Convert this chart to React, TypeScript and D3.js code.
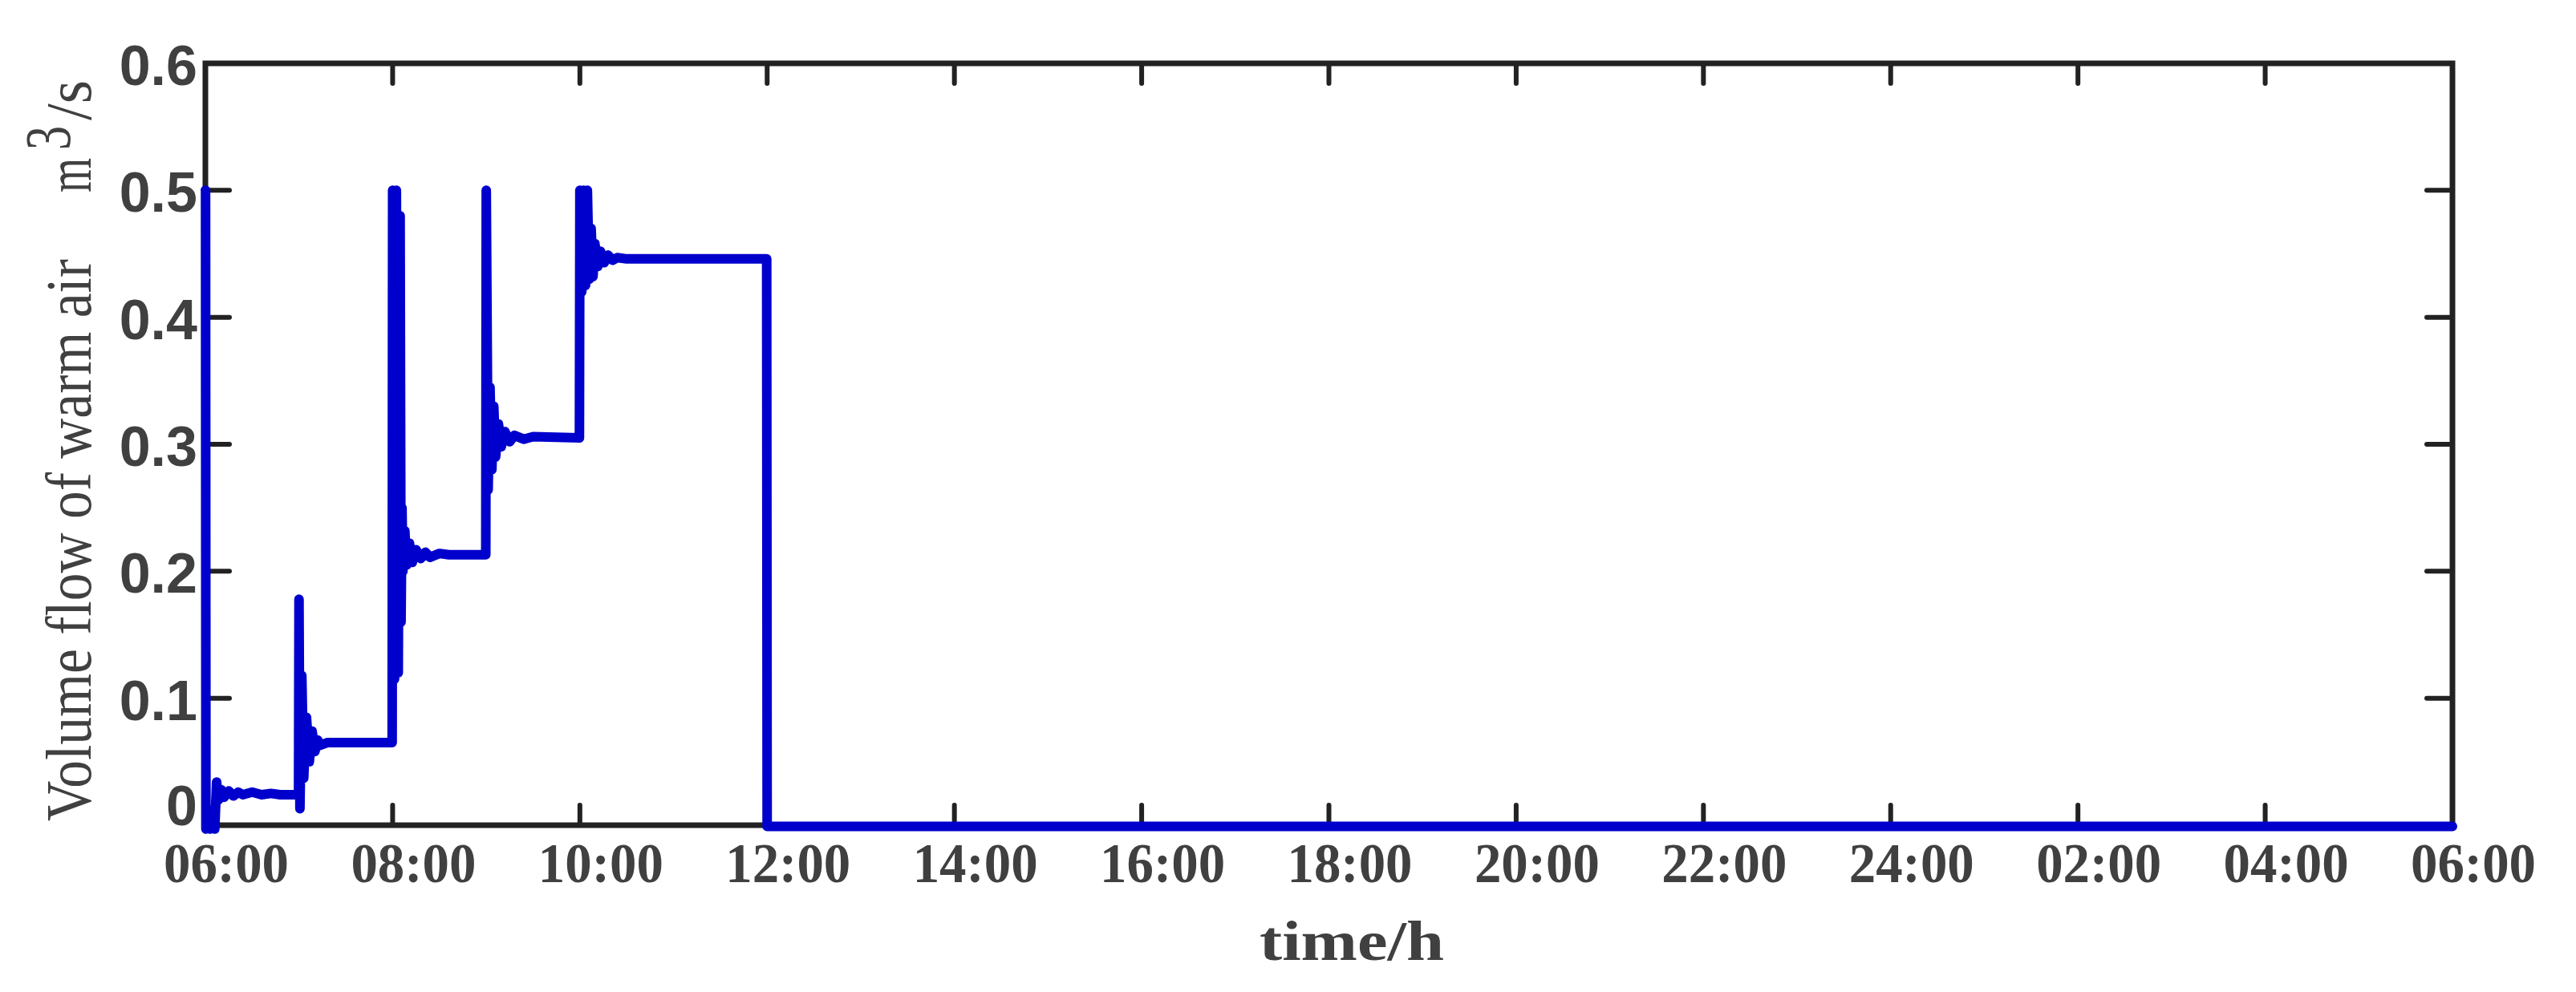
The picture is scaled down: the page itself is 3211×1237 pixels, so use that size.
import React from 'react';
import * as d3 from 'd3';

// Volume flow of warm air over one day (hours counted from 06:00)
const startup: [number, number][] = [
  [0, 0.5], [0.002, 0.5], [0.006, -0.003], [0.03, 0.01], [0.05, -0.003], [0.08, 0.012],
  [0.1, -0.003], [0.12, 0.034], [0.14, 0.02], [0.17, 0.028], [0.2, 0.022], [0.25, 0.027],
  [0.3, 0.023], [0.35, 0.026], [0.4, 0.024], [0.5, 0.026], [0.6, 0.024], [0.7, 0.025],
  [0.8, 0.024], [0.995, 0.024],
];
const step0700: [number, number][] = [
  [1.0, 0.178], [1.01, 0.013], [1.03, 0.118], [1.05, 0.037], [1.08, 0.085], [1.11, 0.05],
  [1.14, 0.074], [1.17, 0.058], [1.2, 0.067], [1.23, 0.063], [1.3, 0.065], [1.995, 0.065],
];
const step0800: [number, number][] = [
  [2.0, 0.5], [2.02, 0.115], [2.04, 0.5], [2.06, 0.12], [2.08, 0.48], [2.09, 0.16],
  [2.1, 0.25], [2.11, 0.2], [2.13, 0.232], [2.15, 0.205], [2.18, 0.222], [2.21, 0.207],
  [2.25, 0.217], [2.3, 0.21], [2.35, 0.215], [2.4, 0.211], [2.5, 0.214], [2.6, 0.213],
  [2.995, 0.213],
];
const step0900: [number, number][] = [
  [3.0, 0.5], [3.02, 0.264], [3.04, 0.345], [3.06, 0.28], [3.08, 0.33], [3.1, 0.29],
  [3.13, 0.316], [3.16, 0.298], [3.2, 0.31], [3.25, 0.302], [3.3, 0.307], [3.4, 0.304],
  [3.5, 0.306], [3.995, 0.305],
];
const step1000: [number, number][] = [
  [4.0, 0.5], [4.02, 0.42], [4.04, 0.5], [4.06, 0.425], [4.08, 0.5], [4.1, 0.43],
  [4.12, 0.47], [4.14, 0.432], [4.16, 0.458], [4.19, 0.44], [4.22, 0.452], [4.26, 0.443],
  [4.3, 0.449], [4.35, 0.445], [4.4, 0.447], [4.5, 0.446], [5.995, 0.446],
];
const shutdown: [number, number][] = [
  [6.0, -0.001], [24, -0.001],
];

const xTickHours = [0, 2, 4, 6, 8, 10, 12, 14, 16, 18, 20, 22, 24];
const xTickLabels = ['06:00', '08:00', '10:00', '12:00', '14:00', '16:00', '18:00',
  '20:00', '22:00', '24:00', '02:00', '04:00', '06:00'];
const yTicks = [0, 0.1, 0.2, 0.3, 0.4, 0.5, 0.6];
const yTickLabels = ['0', '0.1', '0.2', '0.3', '0.4', '0.5', '0.6'];

const W = 3211;
const H = 1237;
const left = 256, right = 3057, top = 79, bottom = 1029;
const textColor = '#404040';
const axisColor = '#222222';

const App = () => {
  const x = d3.scaleLinear().domain([0, 24]).range([left, right]);
  const y = d3.scaleLinear().domain([0, 0.6]).range([bottom, top]);

  const series = [...startup, ...step0700, ...step0800, ...step0900, ...step1000, ...shutdown];
  const path = d3.line<[number, number]>()
    .x(d => x(d[0]))
    .y(d => y(d[1]))(series);

  return (
    <svg width={W} height={H} style={{ position: 'absolute', left: 0, top: 0, background: '#fff' }}>
      {/* ticks, inward on all four sides */}
      <g stroke={axisColor} strokeWidth={6} strokeLinecap="round">
        {xTickHours.map(h => (
          <g key={'xt' + h}>
            <line x1={x(h)} x2={x(h)} y1={bottom} y2={bottom - 25} />
            <line x1={x(h)} x2={x(h)} y1={top} y2={top + 25} />
          </g>
        ))}
        {yTicks.map(v => (
          <g key={'yt' + v}>
            <line x1={left} x2={left + 30} y1={y(v)} y2={y(v)} />
            <line x1={right} x2={right - 32} y1={y(v)} y2={y(v)} />
          </g>
        ))}
      </g>
      {/* box */}
      <rect x={left} y={top} width={right - left} height={bottom - top}
        fill="none" stroke={axisColor} strokeWidth={7} />

      {/* data line */}
      <path d={path ?? ''} fill="none" stroke="#0000cd" strokeWidth={12}
        strokeLinejoin="round" strokeLinecap="round" />

      {/* y tick labels */}
      <g fontFamily="'Liberation Sans', Arial, sans-serif" fontWeight="bold" fontSize={70} fill={textColor}>
        {yTicks.map((v, i) => (
          <text key={'yl' + v} x={246} y={v === 0 ? y(v) : y(v) + 27} textAnchor="end">
            {yTickLabels[i]}
          </text>
        ))}
      </g>

      {/* x tick labels */}
      <g fontFamily="'Liberation Serif', 'Times New Roman', serif" fontWeight="bold" fontSize={70} fill={textColor}>
        {xTickHours.map((h, i) => (
          <text key={'xl' + h} x={x(h) + 26} y={1100} textAnchor="middle"
            textLength={156} lengthAdjust="spacingAndGlyphs">
            {xTickLabels[i]}
          </text>
        ))}
        <text x={1685} y={1197} textAnchor="middle" textLength={230} lengthAdjust="spacingAndGlyphs">
          time/h
        </text>
      </g>

      {/* y axis title, rotated */}
      <g transform="translate(113, 0) rotate(-90)" fontFamily="'Liberation Serif', 'Times New Roman', serif"
        fontSize={80} fill={textColor}>
        <text x={-1024} y={0} textLength={701} lengthAdjust="spacingAndGlyphs">
          Volume flow of warm air
        </text>
        <text x={-240} y={0} textLength={43} lengthAdjust="spacingAndGlyphs">m</text>
        <text x={-187} y={-26} textLength={30} lengthAdjust="spacingAndGlyphs">3</text>
        <text x={-150} y={0} textLength={50} lengthAdjust="spacingAndGlyphs">/s</text>
      </g>
    </svg>
  );
};

export default App;
